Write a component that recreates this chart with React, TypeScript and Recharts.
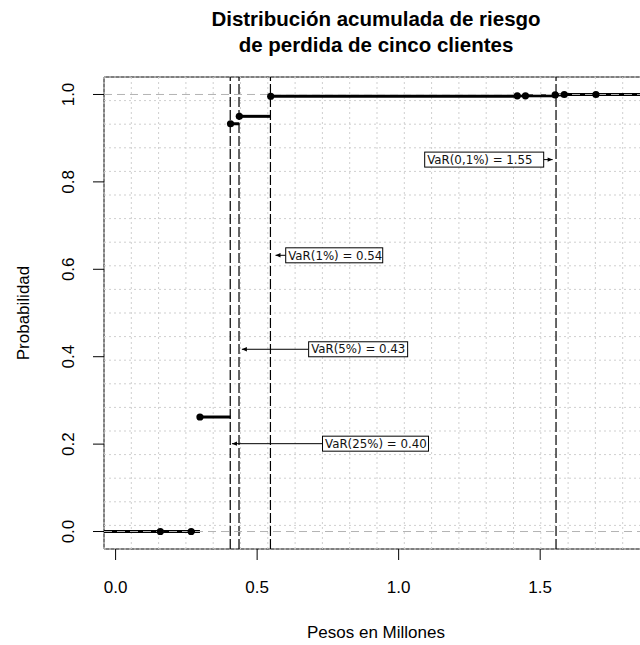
import React from 'react';
import {
  ComposedChart,
  XAxis,
  YAxis,
  Scatter,
  ReferenceLine,
  ReferenceArea,
  ReferenceDot,
} from 'recharts';

// ---- Data ----
const jumpX = [0.158, 0.267, 0.298, 0.406, 0.437, 0.548, 1.419, 1.448, 1.553, 1.585, 1.697];
const cumProb = [0.0, 0.0, 0.262, 0.933, 0.95, 0.996, 0.997, 0.997, 0.999, 1.0, 1.0];

const varLabels = ['VaR(25%) = 0.40', 'VaR(5%) = 0.43', 'VaR(1%) = 0.54', 'VaR(0,1%) = 1.55'];
const varX = [0.405, 0.436, 0.547, 1.556];
const varLabelProb = [0.201, 0.417, 0.632, 0.851];

const xTicks = [0, 0.5, 1.0, 1.5];
const yTicks = [0, 0.2, 0.4, 0.6, 0.8, 1.0];

// ---- Layout (not data) ----
const boxLeftX = [0.731, 0.682, 0.601, 1.092];
const arrowFromX = [0.731, 0.682, 0.601, 1.512];
const arrowTipX = [0.411, 0.446, 0.565, 1.544];
const boxWidthPx = [106, 99, 97, 119];

const X_MIN = -0.041;
const X_MAX = 1.888;
const Y_MIN = -0.04;
const Y_MAX = 1.04;

const gridX = Array.from({ length: 21 }, (_, i) => X_MIN + ((X_MAX - X_MIN) * i) / 20);
const gridY = Array.from({ length: 21 }, (_, i) => Y_MIN + ((Y_MAX - Y_MIN) * i) / 20);

const points = jumpX.map((x, i) => ({ x, y: cumProb[i] }));

const segments: { x1: number; x2: number; y: number }[] = [
  { x1: X_MIN, x2: jumpX[0], y: 0 },
  ...jumpX.map((x, i) => ({
    x1: x,
    x2: i < jumpX.length - 1 ? jumpX[i + 1] : X_MAX,
    y: cumProb[i],
  })),
];

const FONT = '"Liberation Sans", Arial, sans-serif';
const LABEL_FONT = '"DejaVu Sans", Verdana, sans-serif';

const XTick = (props: any) => {
  const { x, y, payload } = props;
  return (
    <text x={x} y={y + 33} textAnchor="middle" fontSize={17} fontFamily={FONT} fill="#000">
      {Number(payload.value).toFixed(1)}
    </text>
  );
};

const YTick = (props: any) => {
  const { x, y, payload } = props;
  const bx = x - 19;
  return (
    <text
      x={bx}
      y={y}
      transform={`rotate(-90, ${bx}, ${y})`}
      textAnchor="middle"
      fontSize={17}
      fontFamily={FONT}
      fill="#000"
    >
      {Number(payload.value).toFixed(1)}
    </text>
  );
};

export default function App() {
  return (
    <div
      style={{
        position: 'absolute',
        left: 0,
        top: 0,
        width: 640,
        height: 645,
        overflow: 'hidden',
        background: '#fff',
      }}
    >
      <ComposedChart
        width={700}
        height={645}
        margin={{ top: 77, right: 50, bottom: 56, left: 44 }}
        data={points}
      >
        <XAxis
          dataKey="x"
          type="number"
          domain={[X_MIN, X_MAX]}
          allowDataOverflow
          ticks={xTicks}
          interval={0}
          height={40}
          axisLine={false}
          tickLine={{ stroke: '#000', strokeWidth: 1 }}
          tickSize={11}
          tickMargin={0}
          tick={<XTick />}
        />
        <YAxis
          dataKey="y"
          type="number"
          domain={[Y_MIN, Y_MAX]}
          allowDataOverflow
          ticks={yTicks}
          interval={0}
          width={60}
          axisLine={false}
          tickLine={{ stroke: '#000', strokeWidth: 1 }}
          tickSize={11}
          tickMargin={0}
          tick={<YTick />}
        />

        {gridX.map((v, i) => (
          <ReferenceLine
            key={`gx${i}`}
            x={v}
            stroke="#cfcfcf"
            strokeDasharray="2 3"
            ifOverflow="visible"
          />
        ))}
        {gridY.map((v, i) => (
          <ReferenceLine
            key={`gy${i}`}
            y={v}
            stroke="#cfcfcf"
            strokeDasharray="2 3"
            ifOverflow="visible"
          />
        ))}

        {varX.map((v, i) => (
          <ReferenceLine
            key={`vx${i}`}
            x={v}
            stroke="#000"
            strokeWidth={1.2}
            strokeDasharray="10 3"
            ifOverflow="visible"
          />
        ))}

        {segments.map((s, i) => (
          <ReferenceLine
            key={`seg${i}`}
            segment={[
              { x: s.x1, y: s.y },
              { x: s.x2, y: s.y },
            ]}
            stroke="#000"
            strokeWidth={3}
            ifOverflow="visible"
          />
        ))}

        <ReferenceLine y={0} stroke="#b3b3b3" strokeDasharray="8 5" ifOverflow="visible" />
        <ReferenceLine y={1} stroke="#b3b3b3" strokeDasharray="8 5" ifOverflow="visible" />

        <Scatter
          data={points}
          dataKey="y"
          isAnimationActive={false}
          fill="#000"
          shape={(p: any) => <circle cx={p.cx} cy={p.cy} r={3.6} fill="#000" />}
        />

        {varLabels.map((lab, i) => (
          <ReferenceLine
            key={`ar${i}`}
            segment={[
              { x: arrowFromX[i], y: varLabelProb[i] },
              { x: arrowTipX[i], y: varLabelProb[i] },
            ]}
            stroke="#000"
            strokeWidth={1}
            ifOverflow="visible"
          />
        ))}
        {varLabels.map((lab, i) => {
          const dir = arrowTipX[i] < arrowFromX[i] ? -1 : 1;
          return (
            <ReferenceDot
              key={`ah${i}`}
              x={arrowTipX[i]}
              y={varLabelProb[i]}
              ifOverflow="visible"
              shape={(p: any) => (
                <polygon
                  points={`${p.cx},${p.cy} ${p.cx - dir * 5},${p.cy - 2.2} ${p.cx - dir * 5},${p.cy + 2.2}`}
                  fill="#000"
                />
              )}
            />
          );
        })}
        {varLabels.map((lab, i) => (
          <ReferenceDot
            key={`bx${i}`}
            x={boxLeftX[i]}
            y={varLabelProb[i]}
            ifOverflow="visible"
            shape={(p: any) => (
              <g>
                <rect
                  x={p.cx}
                  y={p.cy - 7.5}
                  width={boxWidthPx[i]}
                  height={15}
                  fill="#fff"
                  stroke="#000"
                  strokeWidth={1}
                />
                <text
                  x={p.cx + 2.5}
                  y={p.cy + 4.2}
                  fontSize={11.8}
                  fontFamily={LABEL_FONT}
                  fill="#111"
                >
                  {lab}
                </text>
              </g>
            )}
          />
        ))}

        <ReferenceArea
          x1={X_MIN}
          x2={X_MAX}
          y1={Y_MIN}
          y2={Y_MAX}
          fill="none"
          fillOpacity={0}
          stroke="#000"
          strokeWidth={1}
          ifOverflow="visible"
        />
      </ComposedChart>

      <svg
        width={640}
        height={645}
        style={{ position: 'absolute', left: 0, top: 0, pointerEvents: 'none' }}
      >
        <text x={376} y={26} textAnchor="middle" fontSize={20.5} fontWeight="bold" fontFamily={FONT} fill="#000">
          Distribución acumulada de riesgo
        </text>
        <text x={376} y={52} textAnchor="middle" fontSize={20.5} fontWeight="bold" fontFamily={FONT} fill="#000">
          de perdida de cinco clientes
        </text>
        <text x={376} y={638} textAnchor="middle" fontSize={17} fontFamily={FONT} fill="#000">
          Pesos en Millones
        </text>
        <text
          x={29}
          y={313}
          transform="rotate(-90, 29, 313)"
          textAnchor="middle"
          fontSize={17}
          fontFamily={FONT}
          fill="#000"
        >
          Probabilidad
        </text>
      </svg>
    </div>
  );
}
